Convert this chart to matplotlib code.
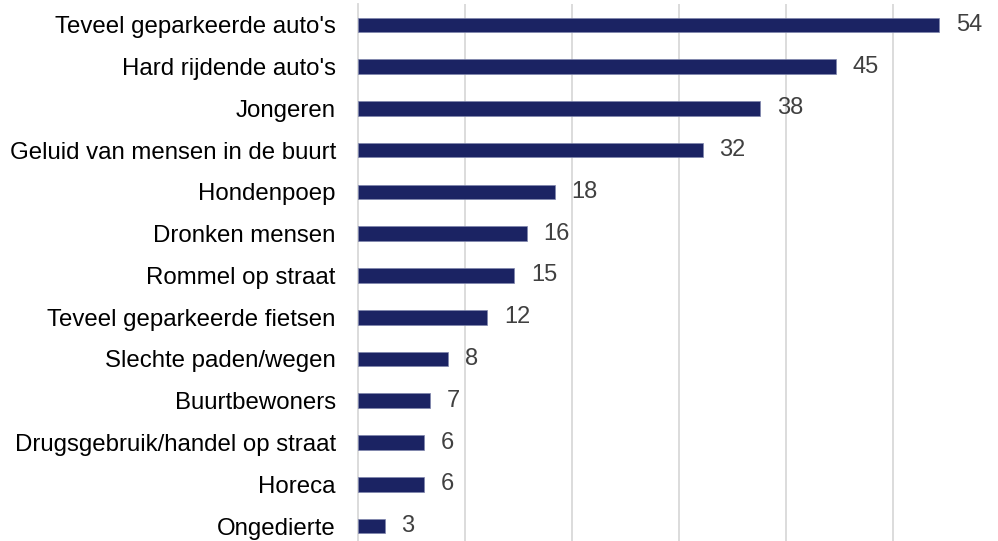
import matplotlib.pyplot as plt

plt.rcParams['font.family'] = ['Liberation Sans', 'DejaVu Sans']

categories = ["Teveel geparkeerde auto's", "Hard rijdende auto's", "Jongeren",
              "Geluid van mensen in de buurt", "Hondenpoep", "Dronken mensen",
              "Rommel op straat", "Teveel geparkeerde fietsen", "Slechte paden/wegen",
              "Buurtbewoners", "Drugsgebruik/handel op straat", "Horeca", "Ongedierte"]
# bar lengths (percentages, unrounded)
values = [54.3, 44.7, 37.6, 32.2, 18.4, 15.8, 14.6, 12.1, 8.4, 6.7, 6.2, 6.2, 2.5]
# labels as printed next to the bars
value_labels = ["54", "45", "38", "32", "18", "16", "15", "12", "8", "7", "6", "6", "3"]

W, H = 998, 541
fig = plt.figure(figsize=(W / 100, H / 100), dpi=100)
# plot area: left at x=358px, runs off the right and bottom edge like the source
ax = fig.add_axes([358 / W, 0, 1 - 358 / W, 1 - 4 / H])

pos = list(range(len(categories)))
ax.barh(pos, values, height=0.35, color='#1b2363', edgecolor='#7f85ad',
        linewidth=0.5, zorder=3)

for p, v, lab in zip(pos, values, value_labels):
    ax.annotate(lab, (v, p), xytext=(12, 0), textcoords='offset points',
                va='center', ha='left', fontsize=17, color='#404040')

ax.set_xlim(0, (W - 358) / 10.7)
ax.set_ylim((H - 24.8) / 41.77, -0.5)
ax.set_xticks([10, 20, 30, 40, 50])
ax.xaxis.grid(True, color='#d9d9d9', linewidth=1.3, zorder=0)
ax.tick_params(axis='x', bottom=False, labelbottom=False)

ax.set_yticks(pos)
ax.set_yticklabels(categories, fontsize=17.3, color='#000000')
ax.tick_params(axis='y', length=0, pad=16)

for s in ['top', 'right', 'bottom']:
    ax.spines[s].set_visible(False)
ax.spines['left'].set_color('#d9d9d9')
ax.spines['left'].set_linewidth(1.3)

fig.savefig('out.png', dpi=100)
